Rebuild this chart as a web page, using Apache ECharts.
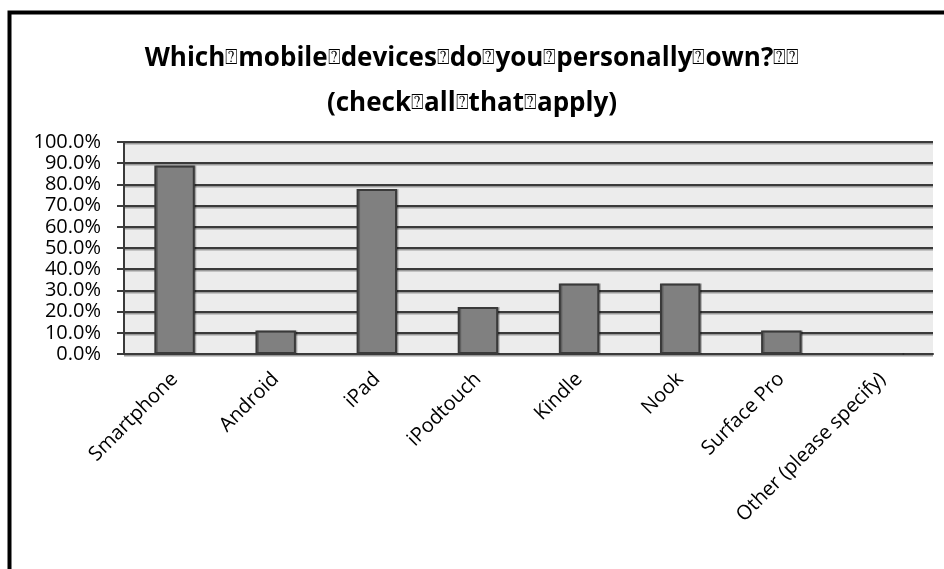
<!DOCTYPE html>
<html>
<head>
<meta charset="utf-8">
<script src="https://cdn.jsdelivr.net/npm/echarts@6/dist/echarts.min.js"></script>
<style>
  html, body { margin: 0; padding: 0; background: #fff; }
  #chart { width: 944px; height: 569px; }
</style>
</head>
<body>
<div id="chart"></div>
<script>
const categories = ['Smartphone', 'Android', 'iPad', 'iPodtouch', 'Kindle', 'Nook', 'Surface Pro', 'Other (please specify)']
const shares = [88.9, 11.1, 77.8, 22.2, 33.3, 33.3, 11.1, 0]
// the original title shows missing-glyph boxes where the spaces were
const titleLine1 = ['Which', 'mobile', 'devices', 'do', 'you', 'personally', 'own?', '', '']
const titleLine2 = ['(check', 'all', 'that', 'apply)']

const font = '"Open Sans", "DejaVu Sans", sans-serif'
const dark = '#3a3a3a'
const box = '{q|⍰}'

const chart = echarts.init(document.getElementById('chart'))

chart.setOption({
  animation: false,
  backgroundColor: '#fff',
  title: {
    text: titleLine1.join(box) + '\n' + titleLine2.join(box),
    left: 'center',
    top: 31,
    textStyle: {
      fontFamily: font, fontSize: 26, fontWeight: 'bold', color: '#000', lineHeight: 45,
      rich: { q: { fontFamily: font, fontSize: 21, fontWeight: 'normal', color: '#000', lineHeight: 45 } }
    }
  },
  graphic: [{
    type: 'rect',
    shape: { x: 9.5, y: 12.5, width: 1000, height: 1000 },
    style: { fill: 'none', stroke: '#000', lineWidth: 4 },
    silent: true
  }],
  grid: {
    left: 124, right: 11, top: 142, bottom: 215,
    show: true, backgroundColor: '#ececec', borderWidth: 0
  },
  xAxis: {
    type: 'category',
    data: categories,
    axisLine: { lineStyle: { color: dark, width: 2 } },
    axisTick: { length: 6, lineStyle: { color: dark, width: 2 } },
    axisLabel: { rotate: 45, margin: 22, interval: 0, color: '#000', fontFamily: font, fontSize: 20 }
  },
  yAxis: {
    type: 'value',
    min: 0, max: 100, interval: 10,
    axisLine: { show: true, lineStyle: { color: dark, width: 2 } },
    axisTick: { show: true, length: 7, lineStyle: { color: dark, width: 2 } },
    axisLabel: { margin: 23, color: '#000', fontFamily: font, fontSize: 20, formatter: v => v.toFixed(1) + '%' },
    splitLine: { lineStyle: { color: dark, width: 2, shadowColor: '#9a9a9a', shadowOffsetY: 1.5 } }
  },
  series: [{
    type: 'bar',
    data: shares,
    barWidth: '40%',
    itemStyle: { color: '#808080', borderColor: dark, borderWidth: 2, shadowColor: 'rgba(0,0,0,0.25)', shadowOffsetX: 1.5 }
  }]
})
</script>
</body>
</html>
